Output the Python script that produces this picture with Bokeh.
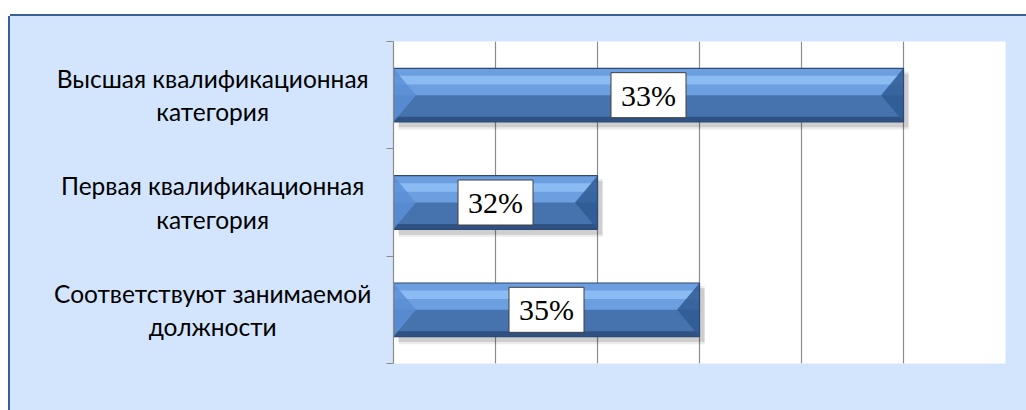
from bokeh.plotting import figure
from bokeh.models import ColumnDataSource, FixedTicker, LinearAxis, Range1d, Grid
from bokeh.layouts import row
from bokeh.embed import file_html
from bokeh.resources import INLINE
from bokeh.core.properties import value

# ---- data ----
categories = ["Соответствуют занимаемой\nдолжности",
              "Первая квалификационная\nкатегория",
              "Высшая квалификационная\nкатегория"]
values = [3, 2, 5]
percent_labels = ["35%", "32%", "33%"]
x_ticks = [0, 1, 2, 3, 4, 5, 6]
y_bounds = [0, 1, 2, 3]

BG = "#D3E5FC"

# ---- derived positions ----
pos = [i + 0.5 for i in range(len(categories))]
H = 0.5
BEV = 0.22

src = ColumnDataSource(dict(
    y=pos,
    right=values,
    mid=[v / 2 for v in values],
    pct=percent_labels,
    cat=categories,
    lx=[0.542] * len(pos),
    y_up=[p + H / 4 for p in pos],
    y_hi=[p + H * 0.28 for p in pos],
    y_lo=[p - H / 2 + H * 0.05 for p in pos],
    y_sh=[p - 0.05 for p in pos],
    r_sh=[v + 0.05 for v in values],
))

yr = Range1d(0, 3)

# ---- label panel ----
lp = figure(width=373, height=394, x_range=Range1d(0, 1), y_range=yr,
            output_backend="svg", toolbar_location=None,
            x_axis_location=None, y_axis_location=None,
            min_border_left=0, min_border_right=0, min_border_top=25, min_border_bottom=47,
            border_fill_color=BG, background_fill_color=None, outline_line_color=None)
lp.grid.visible = False
lp.text(x="lx", y="y", text="cat", source=src, text_align="center", text_baseline="middle",
        text_font=value("Lato"), text_font_size="24.5px", text_color="black",
        text_line_height=1.15)

# ---- chart ----
p = figure(width=643, height=394, x_range=Range1d(0, 6), y_range=yr,
           output_backend="svg", toolbar_location=None,
           x_axis_location=None, y_axis_location=None,
           min_border_left=10, min_border_right=21, min_border_top=25, min_border_bottom=47,
           border_fill_color=BG, background_fill_color="white",
           outline_line_color=None)
p.grid.visible = False

grid = Grid(dimension=0, ticker=FixedTicker(ticks=x_ticks), grid_line_color="#8C8C8C", grid_line_width=1.2)
p.add_layout(grid)

yax = LinearAxis(ticker=FixedTicker(ticks=y_bounds), major_tick_out=7, major_tick_in=0,
                 minor_tick_line_color=None, major_label_text_font_size="0px",
                 major_label_standoff=0, axis_line_color="#8C8C8C", major_tick_line_color="#8C8C8C",
                 axis_line_width=1.2)
p.add_layout(yax, "left")

# shadow
p.hbar(y="y_sh", left=0.05, right="r_sh", height=H + 0.04, source=src,
       fill_color="black", fill_alpha=0.08, line_color=None)
p.hbar(y="y_sh", left=0.05, right="r_sh", height=H, source=src,
       fill_color="black", fill_alpha=0.12, line_color=None)
# base
p.hbar(y="y", left=0, right="right", height=H, source=src,
       fill_color="#4673AD", line_color=None)
p.hbar(y="y_up", left=0, right="right", height=H / 2, source=src,
       fill_color="#6C9FE0", line_color=None)
p.hbar(y="y_hi", left=0, right="right", height=H * 0.16, source=src,
       fill_color="#8BBBF3", line_color=None)
p.hbar(y="y_lo", left=0, right="right", height=H * 0.1, source=src,
       fill_color="#2F5283", line_color=None)

# bevels
bx = [[0, BEV, 0] for v in values]
by = [[y + H / 2, y, y - H / 2] for y in pos]
rx = [[v, v - BEV, v] for v in values]
p.patches(xs=bx, ys=by, fill_color="#5A8ED4", fill_alpha=0.85, line_color=None)
p.patches(xs=rx, ys=by, fill_color="#2F5B93", fill_alpha=0.85, line_color=None)

# outline
p.hbar(y="y", left=0, right="right", height=H, source=src,
       fill_color=None, line_color="#2C4A73", line_width=1.2)

# value label boxes
p.rect(x="mid", y="y", width=75, height=45, width_units="screen", height_units="screen",
       source=src, fill_color="white", line_color="#404040", line_width=1)
p.text(x="mid", y="y", text="pct", source=src, text_align="center",
       text_baseline="middle", text_font=value("Liberation Serif"),
       text_font_size="30px", text_color="black")

layout = row(lp, p, spacing=0)
layout.margin = (16, 0, 0, 10)
layout.styles = {"box-shadow": "-2px 0 0 0 #3A5F96, 0 -2px 0 0 #3A5F96",
                 "background-color": BG}

open("out.html", "w").write(file_html(layout, INLINE))
